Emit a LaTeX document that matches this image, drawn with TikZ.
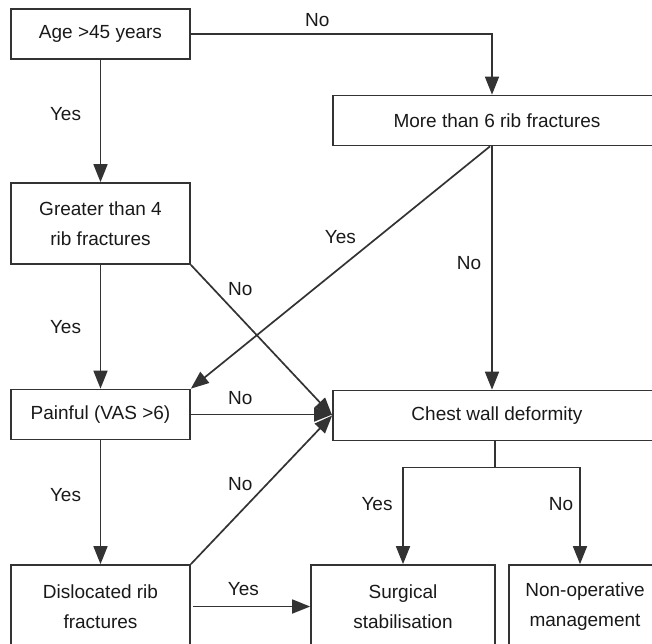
\documentclass[tikz,border=0pt]{standalone}
\usepackage{fontspec}
\setmainfont{Liberation Sans}
\usetikzlibrary{arrows.meta, positioning, calc}

\begin{document}
\begin{tikzpicture}[
    x=1pt, y=-1pt,
    >={Triangle[length=18pt, width=14pt]},
    box/.style={
        draw=black!80, rectangle, align=center, text=black!90,
        minimum height=50pt, inner sep=4pt,
        font=\fontsize{19}{29.5}\selectfont, line width=1.7pt
    },
    arrow/.style={->, line width=1.7pt, draw=black!80},
    lbl/.style={font=\fontsize{19}{23}\selectfont, text=black!90},
]
\useasboundingbox (0,0) rectangle (652,643);

% left column
\node[box, minimum width=179pt] (age) at (100.5,34) {Age >45 years};
\node[box, minimum width=179pt, minimum height=81pt] (greater) at (100.5,223.5) {Greater than 4\\rib fractures};
\node[box, minimum width=179pt] (painful) at (100.5,414.5) {Painful (VAS >6)};
\node[box, minimum width=179pt, minimum height=83pt] (disl) at (100.5,606.5) {Dislocated rib\\fractures};

% right column
\node[box, minimum width=328pt] (more) at (497,120.5) {More than 6 rib fractures};
\node[box, minimum width=328pt] (chest) at (497,415.5) {Chest wall deformity};
\node[box, minimum width=184pt, minimum height=83pt] (surg) at (403,606.5) {Surgical\\stabilisation};
\node[box, minimum width=152pt, minimum height=83pt] (nonop) at (585,606.5) {Non-operative\\management};

\draw[arrow] (age.south) -- (greater.north) node[lbl, pos=0.44, xshift=-35pt] (y1) {Yes};
\draw[arrow] (greater.south) -- (painful.north) node[lbl, midway, xshift=-35pt] (y2) {Yes};
\draw[arrow] (painful.south) -- (disl.north) node[lbl, pos=0.44, xshift=-35pt] (y3) {Yes};
\draw[arrow] (age.east) -| ([xshift=-5pt]more.north) node[lbl, pos=0.21, yshift=14pt] (n1) {No};

\draw[arrow] ([xshift=-7pt]more.south) -- (painful.north east) node[lbl, midway, yshift=30pt] (y4) {Yes};
\draw[arrow] ([xshift=-5pt]more.south) -- ([xshift=-5pt]chest.north) node[lbl, pos=0.48, xshift=-23pt] (n2) {No};

\draw[arrow] (greater.south east) -- (chest.west) node[lbl, pos=0.35, yshift=29pt] (n3) {No};
\draw[arrow] (painful.east) -- (painful.east -| chest.west) node[lbl, pos=0.35, yshift=16pt] (n4) {No};
\draw[arrow] (disl.north east) -- (chest.west) node[lbl, pos=0.35, yshift=28pt] (n5) {No};
\draw[arrow, shorten <=2pt] (disl.east) -- (surg.west) node[lbl, pos=0.44, yshift=17pt] (y5) {Yes};

\coordinate (fork) at ($([xshift=-2pt]chest.south)+(0,26)$);
\draw[line width=1.7pt, draw=black!80] ([xshift=-2pt]chest.south) -- (fork);
\draw[arrow] (fork) -| (surg.north) node[lbl, pos=0.69, xshift=-26pt] (y6) {Yes};
\draw[arrow] (fork) -| ([xshift=-5pt]nonop.north) node[lbl, pos=0.69, xshift=-19pt] (n6) {No};

\end{tikzpicture}
\end{document}
